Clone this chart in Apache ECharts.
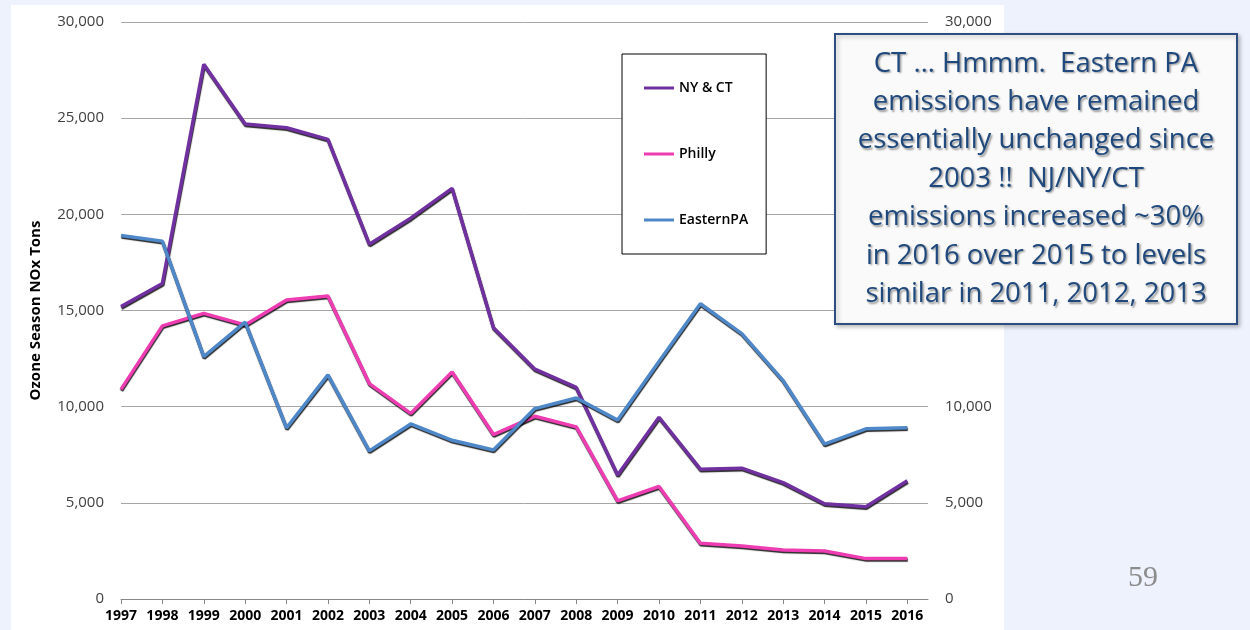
<!DOCTYPE html>
<html>
<head>
<meta charset="utf-8">
<script src="https://cdn.jsdelivr.net/npm/echarts@6/dist/echarts.min.js"></script>
<style>
html,body{margin:0;padding:0;width:1250px;height:630px;background:#EEF2FC;overflow:hidden;}
#panel{position:absolute;left:11px;top:5px;width:993px;height:625px;background:#FFFFFF;}
#chart{position:absolute;left:0;top:0;width:1250px;height:630px;}
</style>
</head>
<body>
<div id="panel"></div>
<div id="chart"></div>
<script>
const years = [1997,1998,1999,2000,2001,2002,2003,2004,2005,2006,2007,2008,2009,2010,2011,2012,2013,2014,2015,2016];
const nyct = [15200,16400,27800,24700,24500,23900,18450,19800,21350,14100,11950,11000,6450,9450,6750,6800,6050,4950,4800,6150];
const philly = [10900,14200,14850,14250,15550,15750,11200,9650,11800,8550,9500,8950,5100,5850,2900,2750,2550,2500,2100,2100];
const easternPA = [18900,18600,12600,14400,8900,11650,7700,9100,8250,7750,9900,10450,9300,12350,15350,13800,11350,8050,8850,8900];
const yTicks = [0,5000,10000,15000,20000,25000,30000];
const seriesNames = ['NY & CT','Philly','EasternPA'];
const noteText = ['CT \u2026 Hmmm.  Eastern PA','emissions have remained','essentially unchanged since','2003 !!  NJ/NY/CT','emissions increased ~30%','in 2016 over 2015 to levels','similar in 2011, 2012, 2013'];

const colors = ['#7030A0','#EE3DB2','#4F88C8'];
const fmt = v => v.toLocaleString('en-US');
const pairs = arr => years.map((y,i)=>[y, arr[i]]);

const chart = echarts.init(document.getElementById('chart'), null, {renderer:'canvas'});
const lineStyle = c => ({color:c, width:3.5, shadowColor:'rgba(0,0,0,0.85)', shadowBlur:1, shadowOffsetX:0.5, shadowOffsetY:1.5});

const yAxisBase = {
  type:'value', min:yTicks[0], max:yTicks[yTicks.length-1], interval:yTicks[1]-yTicks[0],
  axisLine:{show:false}, axisTick:{show:false},
  axisLabel:{formatter:fmt, color:'#404040', fontFamily:'Open Sans', fontSize:15, margin:17},
};

chart.setOption({
  animation:false,
  color:colors,
  grid:{left:121, right:322, top:22, bottom:31, containLabel:false},
  xAxis:{
    type:'value', min:years[0], max:years[years.length-1]+0.5, interval:1,
    splitLine:{show:false},
    axisLine:{show:true, lineStyle:{color:'#888888', width:1}},
    axisTick:{show:true, length:5, lineStyle:{color:'#888888'}},
    axisLabel:{color:'#000', fontWeight:'bold', fontFamily:'Open Sans', fontSize:14, margin:10,
      showMaxLabel:false, formatter:v => (years.indexOf(v)>=0 ? String(v) : '')}
  },
  yAxis:[
    Object.assign({}, yAxisBase, {
      position:'left',
      name:'Ozone Season NOx Tons', nameLocation:'middle', nameGap:78, nameRotate:90,
      nameTextStyle:{color:'#000', fontWeight:'bold', fontFamily:'Open Sans', fontSize:15},
      splitLine:{show:true, lineStyle:{color:'#A6A6A6', width:1}}
    }),
    Object.assign({}, yAxisBase, {position:'right', splitLine:{show:false}})
  ],
  legend:{
    orient:'vertical', left:622, top:54,
    data:seriesNames,
    backgroundColor:'#FFFFFF', borderColor:'#000000', borderWidth:1,
    padding:[27,18,27,22], itemGap:52,
    icon:'rect', itemWidth:30, itemHeight:3,
    textStyle:{color:'#000', fontWeight:600, fontFamily:'Open Sans', fontSize:14, width:78}
  },
  series:[
    {name:seriesNames[0], type:'line', data:pairs(nyct), symbol:'none', lineStyle:lineStyle(colors[0]), z:2},
    {name:seriesNames[1], type:'line', data:pairs(philly), symbol:'none', lineStyle:lineStyle(colors[1]), z:3},
    {name:seriesNames[2], type:'line', data:pairs(easternPA), symbol:'none', lineStyle:lineStyle(colors[2]), z:4}
  ],
  graphic:[
    {type:'rect', z:100, shape:{x:835, y:34, width:402, height:290},
      style:{fill:'#FAFAFA', stroke:'#2E4E82', lineWidth:2, shadowColor:'rgba(0,0,0,0.25)', shadowBlur:4, shadowOffsetX:2, shadowOffsetY:2}},
    {type:'text', z:101, x:1036, y:179,
      style:{text:noteText.join('\n'), fill:'#1F497D', font:'27.5px "Open Sans"', align:'center', verticalAlign:'middle',
        lineHeight:38.4, textShadowColor:'rgba(0,0,0,0.4)', textShadowBlur:2, textShadowOffsetX:1.5, textShadowOffsetY:1.5}},
    {type:'text', z:101, x:1143, y:578,
      style:{text:'59', fill:'#8C8C8C', font:'30px "Liberation Serif"', align:'center', verticalAlign:'middle'}}
  ]
});
</script>
</body>
</html>
